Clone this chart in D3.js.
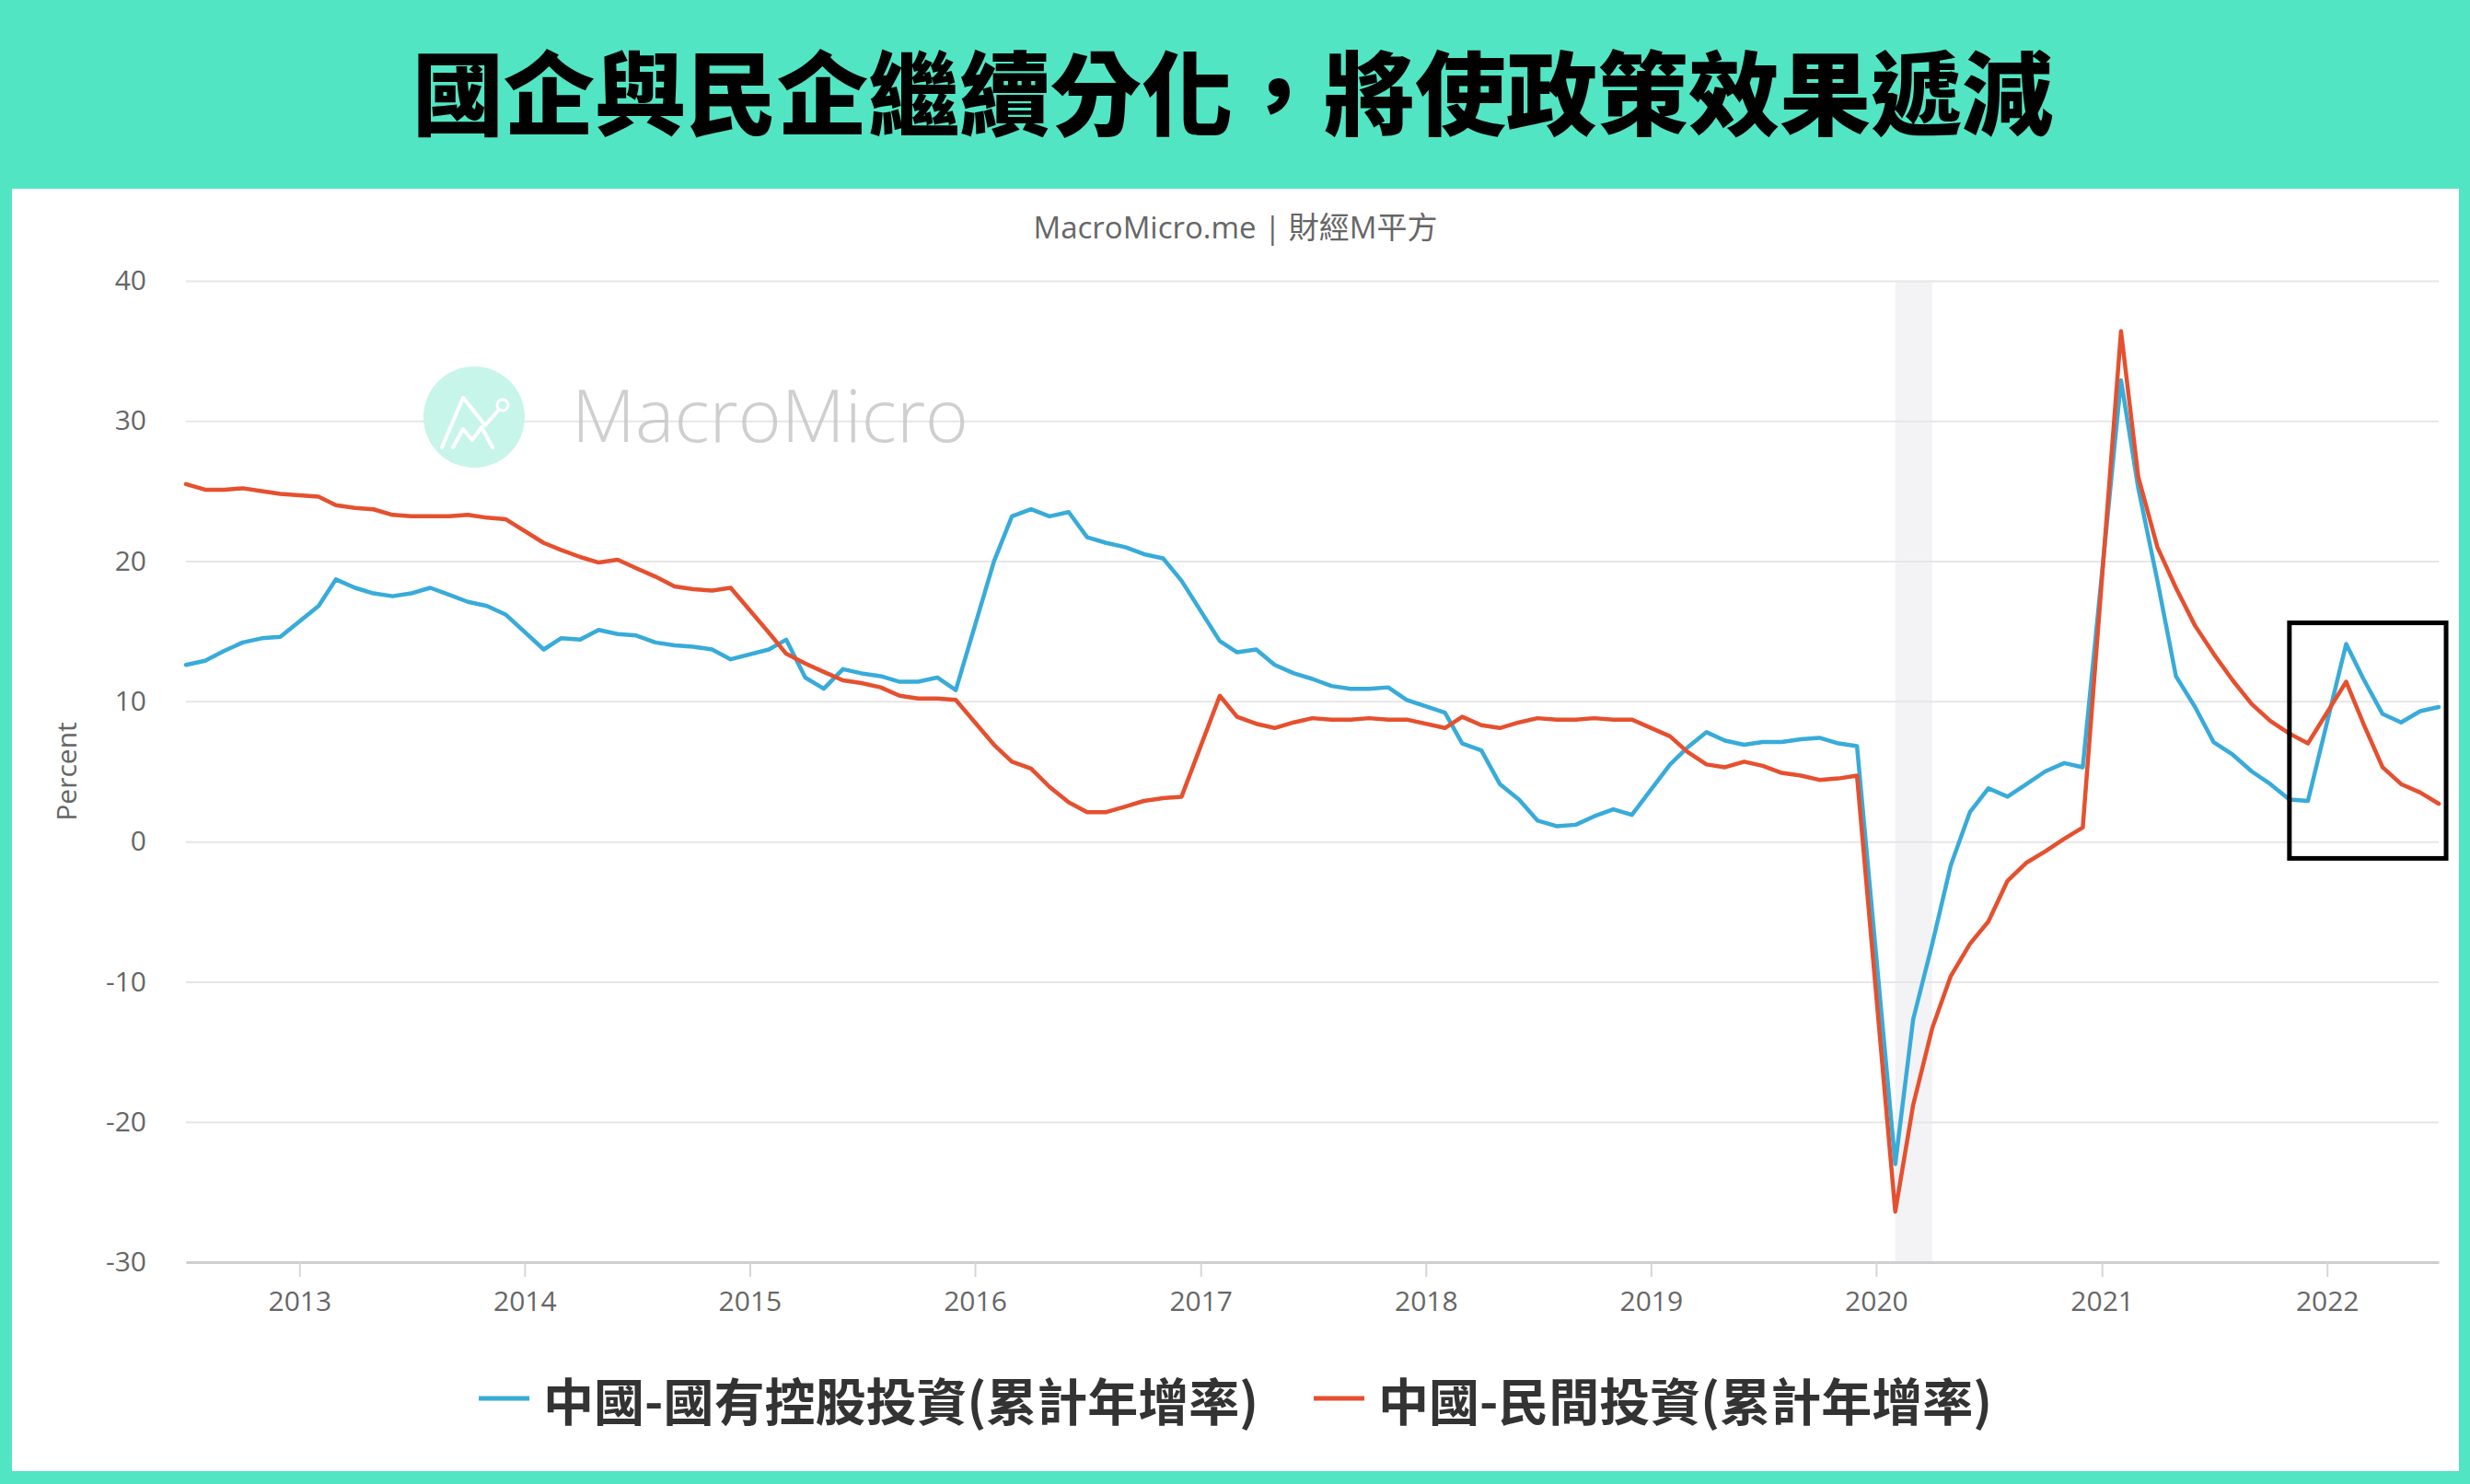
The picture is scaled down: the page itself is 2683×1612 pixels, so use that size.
<!DOCTYPE html>
<html>
<head>
<meta charset="utf-8">
<script src="https://cdn.jsdelivr.net/npm/d3@7"></script>
<style>
  body { margin: 0; background: #52e5c3; }
  svg { display: block; }
</style>
</head>
<body>
<script>
// months with a release (no January figure, Jan-Feb is reported together)
const dates = [
  "2012-07","2012-08","2012-09","2012-10","2012-11","2012-12",
  "2013-02","2013-03","2013-04","2013-05","2013-06","2013-07","2013-08","2013-09","2013-10","2013-11","2013-12",
  "2014-02","2014-03","2014-04","2014-05","2014-06","2014-07","2014-08","2014-09","2014-10","2014-11","2014-12",
  "2015-02","2015-03","2015-04","2015-05","2015-06","2015-07","2015-08","2015-09","2015-10","2015-11","2015-12",
  "2016-02","2016-03","2016-04","2016-05","2016-06","2016-07","2016-08","2016-09","2016-10","2016-11","2016-12",
  "2017-02","2017-03","2017-04","2017-05","2017-06","2017-07","2017-08","2017-09","2017-10","2017-11","2017-12",
  "2018-02","2018-03","2018-04","2018-05","2018-06","2018-07","2018-08","2018-09","2018-10","2018-11","2018-12",
  "2019-02","2019-03","2019-04","2019-05","2019-06","2019-07","2019-08","2019-09","2019-10","2019-11","2019-12",
  "2020-02","2020-03","2020-04","2020-05","2020-06","2020-07","2020-08","2020-09","2020-10","2020-11","2020-12",
  "2021-02","2021-03","2021-04","2021-05","2021-06","2021-07","2021-08","2021-09","2021-10","2021-11","2021-12",
  "2022-02","2022-03","2022-04","2022-05","2022-06","2022-07"
];

// 中國-國有控股投資(累計年增率)
const stateOwned = [
  12.6, 12.9, 13.6, 14.2, 14.5, 14.6,
  16.8, 18.7, 18.1, 17.7, 17.5, 17.7, 18.1, 17.6, 17.1, 16.8, 16.2,
  13.7, 14.5, 14.4, 15.1, 14.8, 14.7, 14.2, 14.0, 13.9, 13.7, 13.0,
  13.7, 14.4, 11.7, 10.9, 12.3, 12.0, 11.8, 11.4, 11.4, 11.7, 10.8,
  20.0, 23.2, 23.7, 23.2, 23.5, 21.7, 21.3, 21.0, 20.5, 20.2, 18.6,
  14.3, 13.5, 13.7, 12.6, 12.0, 11.6, 11.1, 10.9, 10.9, 11.0, 10.1,
  9.2, 7.0, 6.5, 4.1, 3.0, 1.5, 1.1, 1.2, 1.8, 2.3, 1.9,
  5.5, 6.7, 7.8, 7.2, 6.9, 7.1, 7.1, 7.3, 7.4, 7.0, 6.8,
  -23.0, -12.7, -7.3, -1.7, 2.1, 3.8, 3.2, 4.1, 5.0, 5.6, 5.3,
  32.9, 25.2, 18.6, 11.8, 9.6, 7.1, 6.2, 5.0, 4.1, 3.0, 2.9,
  14.1, 11.6, 9.1, 8.5, 9.3, 9.6
];

// 中國-民間投資(累計年增率)
const privateInv = [
  25.5, 25.1, 25.1, 25.2, 25.0, 24.8,
  24.6, 24.0, 23.8, 23.7, 23.3, 23.2, 23.2, 23.2, 23.3, 23.1, 23.0,
  21.3, 20.8, 20.3, 19.9, 20.1, 19.5, 18.9, 18.2, 18.0, 17.9, 18.1,
  14.9, 13.4, 12.7, 12.1, 11.5, 11.3, 11.0, 10.4, 10.2, 10.2, 10.1,
  6.9, 5.7, 5.2, 3.9, 2.8, 2.1, 2.1, 2.5, 2.9, 3.1, 3.2,
  10.4, 8.9, 8.4, 8.1, 8.5, 8.8, 8.7, 8.7, 8.8, 8.7, 8.7,
  8.1, 8.9, 8.3, 8.1, 8.5, 8.8, 8.7, 8.7, 8.8, 8.7, 8.7,
  7.5, 6.4, 5.5, 5.3, 5.7, 5.4, 4.9, 4.7, 4.4, 4.5, 4.7,
  -26.4, -18.8, -13.3, -9.6, -7.3, -5.7, -2.8, -1.5, -0.7, 0.2, 1.0,
  36.4, 26.0, 21.0, 18.1, 15.4, 13.4, 11.5, 9.8, 8.6, 7.7, 7.0,
  11.4, 8.4, 5.3, 4.1, 3.5, 2.7
];

const seriesNames = ["中國-國有控股投資(累計年增率)", "中國-民間投資(累計年增率)"];
const seriesColors = ["#38abd9", "#e5502f"];
const yTicks = [-30, -20, -10, 0, 10, 20, 30, 40];
const yearTicks = ["2013","2014","2015","2016","2017","2018","2019","2020","2021","2022"];
const recession = ["2020-02", "2020-04"];
// highlight box around the latest readings: [from, to] dates and [low, high] values
const boxDates = ["2021-11-01", "2022-07-13"];
const boxValues = [-1.2, 15.6];

const W = 2683, H = 1612;
const parseMonth = d3.timeParse("%Y-%m");
const parseDay = d3.timeParse("%Y-%m-%d");
const font = "'Open Sans', 'Noto Sans CJK TC', sans-serif";
const cjk = "'Noto Sans CJK TC', 'Noto Sans CJK SC', sans-serif";

const svg = d3.select("body").append("svg")
  .attr("width", W)
  .attr("height", H);

// green frame and white card
svg.append("rect").attr("width", W).attr("height", H).attr("fill", "#52e5c3");
svg.append("rect")
  .attr("x", 13).attr("y", 205)
  .attr("width", 2658).attr("height", 1393)
  .attr("fill", "#ffffff");

svg.append("text")
  .attr("x", 1339).attr("y", 96)
  .attr("text-anchor", "middle")
  .attr("dominant-baseline", "central")
  .attr("font-family", cjk)
  .attr("font-weight", 900)
  .attr("font-size", 99)
  .attr("fill", "#000")
  .text("國企與民企繼續分化，將使政策效果遞減");

svg.append("text")
  .attr("x", 1342).attr("y", 246)
  .attr("text-anchor", "middle")
  .attr("dominant-baseline", "central")
  .attr("font-family", font)
  .attr("font-size", 33)
  .attr("fill", "#666")
  .text("MacroMicro.me | 財經M平方");

const plotL = 202, plotR = 2649, plotT = 305, plotB = 1371;

const x = d3.scaleTime()
  .domain([parseMonth(dates[0]), parseMonth(dates[dates.length - 1])])
  .range([plotL, plotR]);

const y = d3.scaleLinear()
  .domain([-30, 40])
  .range([plotB, plotT]);

// recession band
svg.append("rect")
  .attr("x", x(parseMonth(recession[0])))
  .attr("y", plotT)
  .attr("width", x(parseMonth(recession[1])) - x(parseMonth(recession[0])))
  .attr("height", plotB - plotT)
  .attr("fill", "#f3f2f5");

// horizontal grid
const grid = svg.append("g")
  .attr("transform", "translate(" + plotL + ",0)")
  .call(d3.axisLeft(y).tickValues(yTicks).tickSize(-(plotR - plotL)).tickFormat(""));
grid.select(".domain").remove();
grid.selectAll("line").attr("stroke", "#e6e6e6").attr("stroke-width", 2);

// watermark
const wm = svg.append("g").attr("opacity", 0.95);
wm.append("circle").attr("cx", 515).attr("cy", 453).attr("r", 55).attr("fill", "#c6f5e8");
wm.append("path")
  .attr("d", "M480,486 L503,432 L527,462 L541,446 M492,486 L503,466 L513,478 L523,464 L535,486")
  .attr("fill", "none").attr("stroke", "#fff").attr("stroke-width", 4)
  .attr("stroke-linecap", "round").attr("stroke-linejoin", "round");
wm.append("circle").attr("cx", 546).attr("cy", 440).attr("r", 6)
  .attr("fill", "none").attr("stroke", "#fff").attr("stroke-width", 3);
wm.append("text")
  .attr("x", 621).attr("y", 480)
  .attr("font-family", "'Open Sans', sans-serif")
  .attr("font-weight", 300)
  .attr("font-size", 80)
  .attr("fill", "#c4c4c4")
  .attr("fill-opacity", 0.85)
  .attr("textLength", 431)
  .text("MacroMicro");

// y axis labels (plain hyphen for negatives, as in the source)
const yAxis = svg.append("g")
  .attr("transform", "translate(" + plotL + ",0)")
  .call(d3.axisLeft(y).tickValues(yTicks).tickSize(0).tickPadding(43)
    .tickFormat(d => String(d)));
yAxis.select(".domain").remove();
yAxis.selectAll("text")
  .attr("font-family", font)
  .attr("font-size", 30)
  .attr("fill", "#666");

svg.append("text")
  .attr("transform", "translate(71," + ((plotT + plotB) / 2) + ") rotate(-90)")
  .attr("text-anchor", "middle")
  .attr("dominant-baseline", "central")
  .attr("font-family", font)
  .attr("font-size", 30)
  .attr("fill", "#666")
  .text("Percent");

// x axis
const xAxis = svg.append("g")
  .attr("transform", "translate(0," + plotB + ")")
  .call(d3.axisBottom(x)
    .tickValues(yearTicks.map(d => parseMonth(d + "-01")))
    .tickFormat(d3.timeFormat("%Y"))
    .tickSizeInner(16)
    .tickSizeOuter(0)
    .tickPadding(16));
xAxis.select(".domain").attr("stroke", "#cfcfcf").attr("stroke-width", 3);
xAxis.selectAll("line").attr("stroke", "#d6d6d6").attr("stroke-width", 2);
xAxis.selectAll("text")
  .attr("font-family", font)
  .attr("font-size", 30)
  .attr("fill", "#666");

// series
const line = d3.line()
  .x(d => x(d.date))
  .y(d => y(d.value));

[stateOwned, privateInv].forEach(function(values, k) {
  const pts = dates.map((d, i) => ({ date: parseMonth(d), value: values[i] }));
  svg.append("path")
    .datum(pts)
    .attr("d", line)
    .attr("fill", "none")
    .attr("stroke", seriesColors[k])
    .attr("stroke-width", 4.5)
    .attr("stroke-linejoin", "round")
    .attr("stroke-linecap", "round");
});

// highlight box
svg.append("rect")
  .attr("x", x(parseDay(boxDates[0])))
  .attr("y", y(boxValues[1]))
  .attr("width", x(parseDay(boxDates[1])) - x(parseDay(boxDates[0])))
  .attr("height", y(boxValues[0]) - y(boxValues[1]))
  .attr("fill", "none")
  .attr("stroke", "#000")
  .attr("stroke-width", 5);

// legend
const legend = svg.append("g");
const items = legend.selectAll("g").data(seriesNames).enter().append("g");
items.append("line")
  .attr("x1", 0).attr("x2", 55)
  .attr("y1", 0).attr("y2", 0)
  .attr("stroke", (d, i) => seriesColors[i])
  .attr("stroke-width", 5);
items.append("text")
  .attr("x", 70).attr("y", 0)
  .attr("dominant-baseline", "central")
  .attr("font-family", cjk)
  .attr("font-weight", 700)
  .attr("font-size", 55)
  .attr("fill", "#333")
  .text(d => d);

let offset = 0;
const widths = [];
items.each(function() {
  const w = 70 + this.querySelector("text").getComputedTextLength();
  widths.push(w);
});
const gap = 60;
const total = d3.sum(widths) + gap * (widths.length - 1);
const start = 1342 - total / 2;
items.attr("transform", function(d, i) {
  const tx = start + offset;
  offset += widths[i] + gap;
  return "translate(" + tx + ",1519)";
});
</script>
</body>
</html>
